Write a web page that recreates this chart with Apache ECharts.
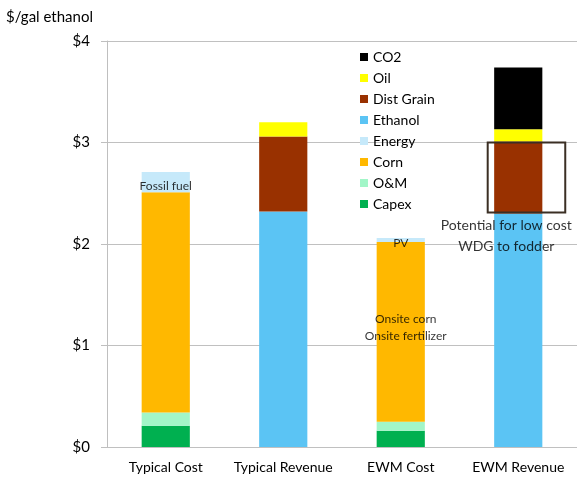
<!DOCTYPE html>
<html>
<head>
<meta charset="utf-8">
<script src="https://cdn.jsdelivr.net/npm/echarts@6/dist/echarts.min.js"></script>
<style>html,body{margin:0;padding:0;background:#fff}#c{width:578px;height:480px}</style>
</head>
<body>
<div id="c"></div>
<script>
const categories = ['Typical Cost', 'Typical Revenue', 'EWM Cost', 'EWM Revenue'];
const yTicks = [0, 1, 2, 3, 4];
// stack order bottom to top
const capex     = [0.21, '-', 0.16, '-'];
const om        = [0.13, '-', 0.09, '-'];
const corn      = [2.17, '-', 1.77, '-'];
const energy    = [0.20, '-', 0.04, '-'];
const ethanol   = ['-', 2.32, '-', 2.30];
const distGrain = ['-', 0.74, '-', 0.71];
const oil       = ['-', 0.14, '-', 0.12];
const co2       = ['-', '-', '-', 0.61];
const seriesNames = ['Capex', 'O&M', 'Corn', 'Energy', 'Ethanol', 'Dist Grain', 'Oil', 'CO2'];
const seriesColors = ['#00B050', '#A2F6C8', '#FFB800', '#C6E9FA', '#5BC4F4', '#993100', '#FFFF00', '#000000'];
const seriesData = [capex, om, corn, energy, ethanol, distGrain, oil, co2];
const legendOrder = ['CO2', 'Oil', 'Dist Grain', 'Ethanol', 'Energy', 'Corn', 'O&M', 'Capex'];
// annotations: [category, value, text]
const annotations = [
  ['Typical Cost', 2.57, 'Fossil fuel', 0, 12],
  ['EWM Cost', 2.01, 'PV', 0, 12],
  ['EWM Cost', 1.18, 'Onsite corn\nOnsite fertilizer', 5, 12],
  ['EWM Revenue', 2.08, 'Potential for low cost\nWDG to fodder', -12, 14]
];
const boxes = [['EWM Revenue', 2.31, 3.0]];

const font = 'Lato, "Open Sans", sans-serif';
const chart = echarts.init(document.getElementById('c'), null, {renderer: 'canvas'});

const series = seriesNames.map((n, i) => ({
  name: n,
  type: 'bar',
  stack: 'total',
  barWidth: '41%',
  itemStyle: {color: seriesColors[i]},
  emphasis: {disabled: true},
  data: seriesData[i]
}));

series.push({
  type: 'custom',
  name: 'box',
  z: 10,
  silent: true,
  renderItem: function (params, api) {
    const p0 = api.coord([api.value(0), api.value(1)]);
    const p1 = api.coord([api.value(0), api.value(2)]);
    const bw = api.size([1, 0])[0];
    const x0 = p0[0] - 0.26 * bw;
    const x1 = p0[0] + 0.40 * bw;
    return {
      type: 'rect',
      shape: {x: x0, y: p1[1], width: x1 - x0, height: p0[1] - p1[1]},
      style: {fill: 'none', stroke: '#3b2f24', lineWidth: 2}
    };
  },
  data: boxes.map(b => [categories.indexOf(b[0]), b[1], b[2]])
});

series.push({
  type: 'scatter',
  name: 'notes',
  symbolSize: 0,
  silent: true,
  z: 12,
  data: annotations.map(a => ({
    value: [a[0], a[1]],
    label: {
      show: true,
      position: 'inside',
      formatter: a[2],
      offset: [a[3], 0],
      fontSize: a[4],
      lineHeight: a[4] === 14 ? 21 : 17,
      color: '#000',
      fontFamily: font
    }
  }))
});

chart.setOption({
  animation: false,
  backgroundColor: '#fff',
  textStyle: {fontFamily: font},
  title: {
    text: '$/gal ethanol',
    left: 1, top: 5,
    textStyle: {fontSize: 15, fontWeight: 'normal', color: '#000', fontFamily: font}
  },
  legend: {
    data: legendOrder,
    orient: 'vertical',
    left: 355, top: 45,
    itemWidth: 8, itemHeight: 8,
    itemGap: 7,
    icon: 'rect',
    textStyle: {fontSize: 14, color: '#000', fontFamily: font, padding: [0, 0, 0, 0]},
    selectedMode: false
  },
  grid: {left: 107, right: 1, top: 41, bottom: 33, containLabel: false},
  xAxis: {
    type: 'category',
    data: categories,
    axisLine: {show: false},
    axisTick: {show: false},
    axisLabel: {interval: 0, fontSize: 14, color: '#000', margin: 13, fontFamily: font}
  },
  yAxis: {
    type: 'value',
    min: yTicks[0], max: yTicks[yTicks.length - 1], interval: 1,
    axisLine: {show: true, lineStyle: {color: '#bfbfbf', width: 1}},
    axisTick: {show: true, length: 6, lineStyle: {color: '#bfbfbf'}},
    axisLabel: {formatter: v => '$' + v, fontSize: 15, color: '#000', margin: 17, fontFamily: font},
    splitLine: {show: true, lineStyle: {color: '#c0c0c0', width: 1}}
  },
  series: series
});
</script>
</body>
</html>
